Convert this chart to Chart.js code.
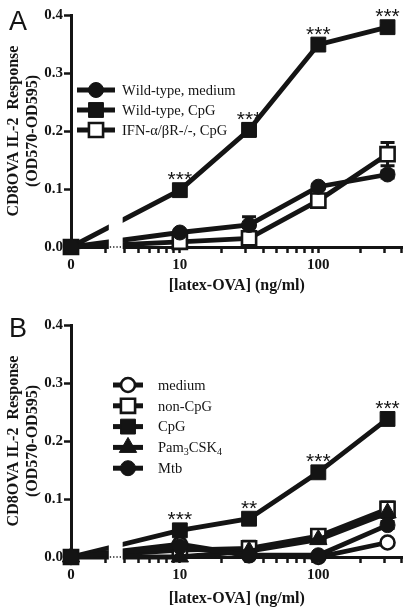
<!DOCTYPE html>
<html>
<head>
<meta charset="utf-8">
<script src="https://cdn.jsdelivr.net/npm/chart.js@4.4.1/dist/chart.umd.min.js"></script>
<style>
  html, body { margin: 0; padding: 0; background: #fff; }
  #wrap { position: relative; width: 415px; height: 613px; }
  .panel { position: absolute; left: 0; width: 415px; }
</style>
</head>
<body>
<div id="wrap">
  <div class="panel" style="top:0;height:300px"><canvas id="chartA"></canvas></div>
  <div class="panel" style="top:310px;height:303px"><canvas id="chartB"></canvas></div>
</div>
<script>
// latex-OVA doses (ng/ml), half-log steps, 0 = no antigen
const DOSES = [0, 10, 31.6, 100, 316];

// Panel A
const A_LABELS = ['Wild-type, medium', 'Wild-type, CpG', 'IFN-α/βR-/-, CpG'];
const A_MEDIUM = [0, 0.025, 0.038, 0.104, 0.125];
const A_CPG    = [0, 0.098, 0.202, 0.349, 0.379];
const A_IFN    = [0, 0.009, 0.015, 0.080, 0.160];
const A_MEDIUM_ERR = [0, 0.004, 0.014, 0.004, 0.006];
const A_CPG_ERR    = [0, 0.003, 0.011, 0.004, 0.003];
const A_IFN_ERR    = [0, 0.002, 0.004, 0.005, 0.020];
const A_STARS = ['', '***', '***', '***', '***'];

// Panel B
const B_LABELS = ['medium', 'non-CpG', 'CpG', 'Pam3CSK4', 'Mtb'];
const B_MEDIUM = [0, 0.022, 0.003, 0.000, 0.025];
const B_NONCPG = [0, 0.012, 0.015, 0.036, 0.083];
const B_CPG    = [0, 0.046, 0.066, 0.146, 0.238];
const B_PAM    = [0, 0.000, 0.010, 0.030, 0.076];
const B_MTB    = [0, 0.018, 0.003, 0.003, 0.055];
const B_MEDIUM_ERR = [0, 0.004, 0.002, 0.001, 0.004];
const B_NONCPG_ERR = [0, 0.004, 0.012, 0.006, 0.012];
const B_CPG_ERR    = [0, 0.004, 0.003, 0.004, 0.004];
const B_PAM_ERR    = [0, 0.003, 0.005, 0.004, 0.008];
const B_MTB_ERR    = [0, 0.004, 0.002, 0.002, 0.006];
const B_STARS = ['', '***', '**', '***', '***'];

// axis: a short linear segment for 0, then log10 from 4 to 400
const Y_TICKS = [0, 0.1, 0.2, 0.3, 0.4];
const X_LABELED = [0, 10, 100];
const X_MINOR = [4, 5, 6, 7, 8, 9, 10, 20, 30, 40, 50, 60, 70, 80, 90, 100, 200, 300, 400];
const ZERO_POS = 0.214;
const SEG_TICK = 0.464;
const X_MAX = 2.607;
const BREAK = [0.487, 0.587];

const INK = '#141414';
const AREA_TOP = 15, AREA_BOTTOM = 247, AREA_LEFT = 71;

function pos(v) { return v === 0 ? ZERO_POS : Math.log10(v); }
function pts(vals) { return vals.map((v, i) => ({ x: pos(DOSES[i]), y: v })); }

function series(label, vals, style, filled, radius, order) {
  return {
    label: label,
    data: pts(vals),
    order: order,
    borderColor: INK,
    borderWidth: 4.8,
    tension: 0,
    pointStyle: style,
    pointRadius: radius,
    pointHoverRadius: radius,
    pointBackgroundColor: filled ? INK : '#fff',
    pointBorderColor: INK,
    pointBorderWidth: filled ? 1 : 2.6,
    clip: false
  };
}

function drawMarker(ctx, style, x, y, r, filled) {
  ctx.beginPath();
  if (style === 'circle') {
    ctx.arc(x, y, r, 0, Math.PI * 2);
  } else if (style === 'rect') {
    const s = Math.SQRT1_2 * r;
    ctx.rect(x - s, y - s, 2 * s, 2 * s);
  } else if (style === 'triangle') {
    let a = 0;
    ctx.moveTo(x + Math.sin(a) * r, y - Math.cos(a) * r);
    a += Math.PI * 2 / 3;
    ctx.lineTo(x + Math.sin(a) * r, y - Math.cos(a) * r);
    a += Math.PI * 2 / 3;
    ctx.lineTo(x + Math.sin(a) * r, y - Math.cos(a) * r);
    ctx.closePath();
  }
  ctx.fillStyle = filled ? INK : '#fff';
  ctx.fill();
  ctx.lineWidth = filled ? 1 : 2.6;
  ctx.strokeStyle = INK;
  ctx.stroke();
}

// digits right after a letter become subscripts (Pam3CSK4)
function drawLabel(ctx, text, x, y) {
  let cx = x;
  for (let i = 0; i < text.length; i++) {
    const ch = text[i];
    const sub = /\d/.test(ch) && i > 0 && /[A-Za-z]/.test(text[i - 1]);
    ctx.font = sub ? '10px "Liberation Serif"' : '14.5px "Liberation Serif"';
    ctx.fillText(ch, cx, sub ? y + 4 : y);
    cx += ctx.measureText(ch).width;
  }
}

const decor = {
  id: 'decor',
  beforeDatasetsDraw(chart, args, o) {
    const { ctx, scales: { x, y } } = chart;
    ctx.save();
    ctx.strokeStyle = INK;
    ctx.lineWidth = 3;
    chart.data.datasets.forEach((ds, di) => {
      const errs = o.errors[di];
      ds.data.forEach((p, i) => {
        const e = errs[i];
        if (!e) return;
        const px = x.getPixelForValue(p.x);
        const top = y.getPixelForValue(p.y + e);
        const bot = y.getPixelForValue(Math.max(0, p.y - e));
        ctx.beginPath();
        ctx.moveTo(px, top); ctx.lineTo(px, bot);
        ctx.moveTo(px - 7, top); ctx.lineTo(px + 7, top);
        ctx.moveTo(px - 7, bot); ctx.lineTo(px + 7, bot);
        ctx.stroke();
      });
    });
    ctx.restore();
  },
  afterDraw(chart, args, o) {
    const { ctx, chartArea, scales: { x, y } } = chart;
    ctx.save();
    // axis break between the 0 segment and the log segment
    const b0 = x.getPixelForValue(BREAK[0]), b1 = x.getPixelForValue(BREAK[1]);
    ctx.fillStyle = '#fff';
    ctx.fillRect(b0, y.getPixelForValue(0.075), b1 - b0, chartArea.bottom + 3 - y.getPixelForValue(0.075));
    ctx.strokeStyle = INK;
    ctx.lineWidth = 1.3;
    ctx.setLineDash([1.3, 2]);
    ctx.beginPath();
    ctx.moveTo(b0 + 1, chartArea.bottom);
    ctx.lineTo(b1 - 1, chartArea.bottom);
    ctx.stroke();
    ctx.setLineDash([]);

    // significance stars above the CpG series
    const ds = chart.data.datasets[o.starSeries];
    ctx.fillStyle = INK;
    ctx.font = '21px "Liberation Sans"';
    ctx.textAlign = 'center';
    ctx.textBaseline = 'alphabetic';
    o.stars.forEach((s, i) => {
      if (!s) return;
      const p = ds.data[i];
      ctx.fillText(s, x.getPixelForValue(p.x), y.getPixelForValue(p.y) - 4);
    });

    // legend
    const L = o.legend;
    ctx.textAlign = 'left';
    ctx.textBaseline = 'middle';
    chart.data.datasets.forEach((d, i) => {
      const ly = L.y + i * L.dy;
      ctx.strokeStyle = INK;
      ctx.lineWidth = 5;
      ctx.beginPath();
      ctx.moveTo(L.x1, ly); ctx.lineTo(L.x2, ly);
      ctx.stroke();
      drawMarker(ctx, d.pointStyle, (L.x1 + L.x2) / 2, ly, d.pointRadius, d.pointBackgroundColor === INK);
      ctx.fillStyle = INK;
      drawLabel(ctx, d.label, L.tx, ly + 1);
    });

    // panel letter
    ctx.font = '27px "Liberation Sans"';
    ctx.textBaseline = 'alphabetic';
    ctx.fillText(o.letter, 9, o.letterY);
    ctx.restore();
  }
};

function options(decorOpts) {
  const tickFont = { family: 'Liberation Serif', size: 15, weight: 'bold' };
  const titleFont = { family: 'Liberation Serif', size: 16, weight: 'bold', lineHeight: 1.2 };
  return {
    responsive: true,
    maintainAspectRatio: false,
    animation: false,
    events: [],
    layout: { padding: { top: AREA_TOP, right: 10, left: 0, bottom: 0 } },
    plugins: { legend: { display: false }, tooltip: { enabled: false }, decor: decorOpts },
    scales: {
      x: {
        type: 'linear',
        min: ZERO_POS,
        max: X_MAX,
        afterBuildTicks: s => {
          s.ticks = [ZERO_POS, SEG_TICK].concat(X_MINOR.map(pos)).map(v => ({ value: v }));
        },
        afterFit: s => { s.height = s.chart.height - AREA_BOTTOM; },
        ticks: {
          autoSkip: false, maxRotation: 0, padding: 3, color: INK, font: tickFont,
          callback: v => {
            const hit = X_LABELED.find(d => Math.abs(pos(d) - v) < 1e-6);
            return hit === undefined ? '' : String(hit);
          }
        },
        grid: { drawOnChartArea: false, tickLength: 6, tickWidth: 2.5, tickColor: INK },
        border: { color: INK, width: 3 },
        title: { display: true, text: '[latex-OVA] (ng/ml)', color: INK, font: titleFont, padding: { top: 0, bottom: 5 } }
      },
      y: {
        min: 0,
        max: 0.4,
        afterBuildTicks: s => { s.ticks = Y_TICKS.map(v => ({ value: v })); },
        afterFit: s => { s.width = AREA_LEFT; },
        ticks: { padding: 1, color: INK, font: tickFont, callback: v => v.toFixed(1) },
        grid: { drawOnChartArea: false, tickLength: 7, tickWidth: 2.5, tickColor: INK },
        border: { color: INK, width: 3 },
        title: {
          display: true,
          text: ['CD8OVA IL-2  Response', '(OD570-OD595)'],
          color: INK, font: titleFont, padding: { top: 4, bottom: 0 }
        }
      }
    }
  };
}

new Chart(document.getElementById('chartA'), {
  type: 'line',
  data: {
    datasets: [
      series(A_LABELS[0], A_MEDIUM, 'circle', true, 7.5, 1),
      series(A_LABELS[1], A_CPG, 'rect', true, 10.5, 2),
      series(A_LABELS[2], A_IFN, 'rect', false, 10, 3)
    ]
  },
  options: options({
    errors: [A_MEDIUM_ERR, A_CPG_ERR, A_IFN_ERR],
    stars: A_STARS, starSeries: 1,
    legend: { x1: 77, x2: 115, tx: 122, y: 90, dy: 20 },
    letter: 'A', letterY: 30
  }),
  plugins: [decor]
});

new Chart(document.getElementById('chartB'), {
  type: 'line',
  data: {
    datasets: [
      series(B_LABELS[0], B_MEDIUM, 'circle', false, 7, 5),
      series(B_LABELS[1], B_NONCPG, 'rect', false, 10, 4),
      series(B_LABELS[2], B_CPG, 'rect', true, 10.5, 3),
      series(B_LABELS[3], B_PAM, 'triangle', true, 10, 2),
      series(B_LABELS[4], B_MTB, 'circle', true, 7.5, 1)
    ]
  },
  options: options({
    errors: [B_MEDIUM_ERR, B_NONCPG_ERR, B_CPG_ERR, B_PAM_ERR, B_MTB_ERR],
    stars: B_STARS, starSeries: 2,
    legend: { x1: 113, x2: 143, tx: 158, y: 75, dy: 20.8 },
    letter: 'B', letterY: 27
  }),
  plugins: [decor]
});
</script>
</body>
</html>
